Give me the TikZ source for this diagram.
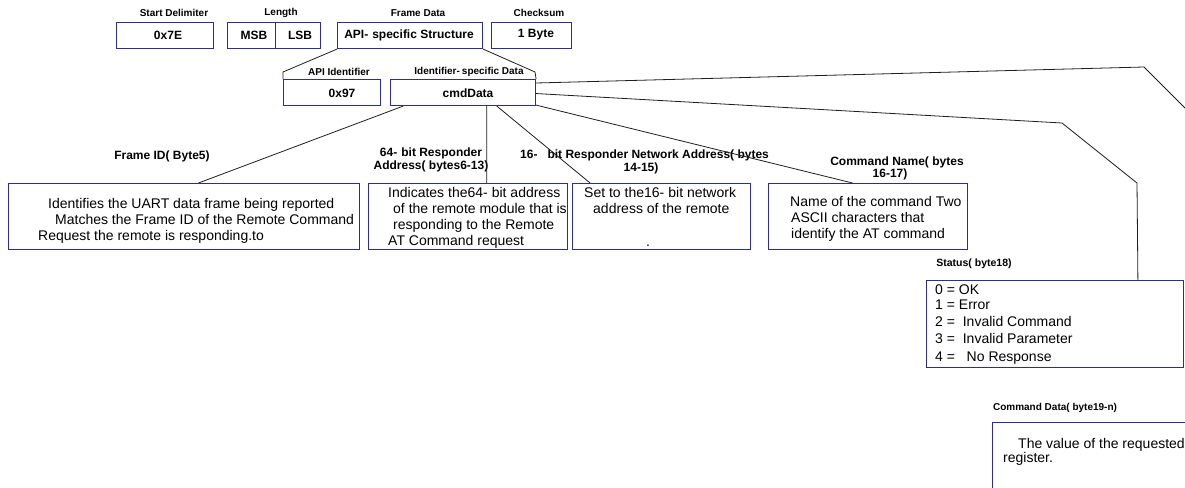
\documentclass[tikz,border=0pt]{standalone}
\usepackage{fontspec}
\setmainfont{Liberation Sans}
\usetikzlibrary{calc}
\definecolor{boxblue}{RGB}{45,45,150}
\definecolor{linegray}{RGB}{30,30,30}
\begin{document}
\begin{tikzpicture}[x=1pt,y=-1pt,
  box/.style={draw=boxblue, line width=1.1pt, rectangle, inner sep=0pt, anchor=north west},
  conn/.style={draw=linegray, line width=0.8pt},
  lbl/.style={font=\bfseries\fontsize{10}{12}\selectfont, inner sep=0pt},
  btxt/.style={font=\bfseries\fontsize{12}{14}\selectfont, inner sep=0pt},
  mlbl/.style={font=\bfseries\fontsize{12}{13}\selectfont, inner sep=0pt},
  dtxt/.style={font=\fontsize{14}{16}\selectfont, inner sep=0pt, anchor=base west}
]
\clip (0,0) rectangle (1185,487);
% top row
\node[lbl] (lsd) at (174,13) {Start Delimiter};
\node[lbl] (llen) at (281,13) {Length};
\node[lbl] (lfd) at (418,13) {Frame Data};
\node[lbl] (lcs) at (539,13) {Checksum};
\node[box, minimum width=97pt, minimum height=26pt] (sd) at (116,22) {};
\node[box, minimum width=48pt, minimum height=26pt] (msb) at (227,22) {};
\node[box, minimum width=45pt, minimum height=26pt] (lsb) at (275,22) {};
\node[box, minimum width=145pt, minimum height=26pt] (fd) at (337,22) {};
\node[box, minimum width=80pt, minimum height=26pt] (cs) at (491,22) {};
\node[btxt] (tsd) at (168,35) {0x7E};
\node[btxt] (tmsb) at (254,35) {MSB};
\node[btxt] (tlsb) at (300,35) {LSB};
\node[btxt] (tfd) at (409,35) {API-\hspace{4pt}specific Structure};
\node[btxt] (tcs) at (536,35) {1 Byte};
% second row
\node[lbl] (lapi) at (339,72) {API Identifier};
\node[lbl] (lisd) at (469,72) {Identifier-\hspace{2pt}specific Data};
\node[box, minimum width=97pt, minimum height=26pt] (api) at (283,79) {};
\node[box, minimum width=145pt, minimum height=26pt] (cmd) at (390,79) {};
\node[btxt] (tapi) at (342,93) {0x97};
\node[btxt] (tcmd) at (468,93) {cmdData};
\coordinate (k1) at (283,72);
\coordinate (k2) at (535,72);
\draw[conn] (fd.south west) -- (k1) -- (api.north west);
\draw[conn] (fd.south east) -- (k2) -- (cmd.north east);
% middle labels
\node[mlbl] (lfid) at (162,156) {Frame ID( Byte5)};
\node[mlbl, align=center] (l64) at (431,159.5) {64-\hspace{4pt}bit Responder\\Address( bytes6-13)};
\node[mlbl, anchor=west] (l16a) at (520,155) {16-\hspace{10pt}bit Responder Network Address( bytes};
\node[mlbl] (l16b) at (641,168) {14-15)};
\node[mlbl] (lcn1) at (897,162) {Command Name( bytes};
\node[mlbl] (lcn2) at (890,174) {16-17)};
% middle boxes
\node[box, minimum width=351pt, minimum height=66pt] (b1) at (8,183) {};
\node[box, minimum width=199pt, minimum height=66pt] (b2) at (368,183) {};
\node[box, minimum width=178pt, minimum height=66pt] (b3) at (572,183) {};
\node[box, minimum width=199pt, minimum height=66pt] (b4) at (768,183) {};
\node[dtxt] (t1a) at (48,208) {Identifies the UART data frame being reported};
\node[dtxt] (t1b) at (55,224) {Matches the Frame ID of the Remote Command};
\node[dtxt] (t1c) at (38,240) {Request the remote is responding.to};
\node[dtxt] (t2a) at (388,197) {Indicates the64-\hspace{4pt}bit address};
\node[dtxt] (t2b) at (393,213) {of the remote module that is};
\node[dtxt] (t2c) at (393,229) {responding to the Remote};
\node[dtxt] (t2d) at (388,245) {AT Command request};
\node[dtxt] (t3a) at (584,197) {Set to the16-\hspace{4pt}bit network};
\node[dtxt] (t3b) at (593,213) {address of the remote};
\node[dtxt] (t3c) at (646,246) {.};
\node[dtxt] (t4a) at (790,206) {Name of the command\hspace{4pt}Two};
\node[dtxt] (t4b) at (791,222) {ASCII characters that};
\node[dtxt] (t4c) at (791,238) {identify the AT command};
% status
\node[mlbl, font=\bfseries\fontsize{10.5}{12}\selectfont] (lst) at (974,264) {Status( byte18)};
\node[box, minimum width=257pt, minimum height=87pt] (st) at (926,280) {};
\node[dtxt] (s0) at (935,294) {0 = OK};
\node[dtxt] (s1) at (935,309) {1 = Error};
\node[dtxt] (s2) at (935,326) {2 = \ Invalid Command};
\node[dtxt] (s3) at (935,343) {3 = \ Invalid Parameter};
\node[dtxt] (s4) at (935,361) {4 = \ \ No Response};
% command data
\node[mlbl, font=\bfseries\fontsize{10}{12}\selectfont] (lcd) at (1055,408) {Command Data( byte19-n)};
\node[box, minimum width=240pt, minimum height=100pt] (cd) at (992,422) {};
\node[dtxt] (c1) at (1018,448) {The value of the requested};
\node[dtxt] (c2) at (1003,462) {register.};
% connectors
\coordinate (e1) at (1062,123);
\coordinate (e2) at (1137,183);
\coordinate (f1) at (1144,67);
\coordinate (f2) at (1200,123);
\draw[conn] ($(cmd.south west)!0.09!(cmd.south east)$) -- ($(b1.north west)!0.541!(b1.north east)$);
\draw[conn] ($(cmd.south west)!0.662!(cmd.south east)$) -- ($(b2.north west)!0.593!(b2.north east)$);
\draw[conn] ($(cmd.south west)!0.731!(cmd.south east)$) -- ($(b3.north west)!0.101!(b3.north east)$);
\draw[conn] ($(cmd.south east)+(0,-1)$) -- ($(b4.north west)!0.422!(b4.north east)$);
\draw[conn] ($(cmd.east)+(0,1)$) -- (e1) -- (e2) -- ($(st.north west)!0.821!(st.north east)$);
\draw[conn] ($(cmd.north east)+(0,4)$) -- (f1) -- (f2);
\end{tikzpicture}
\end{document}
